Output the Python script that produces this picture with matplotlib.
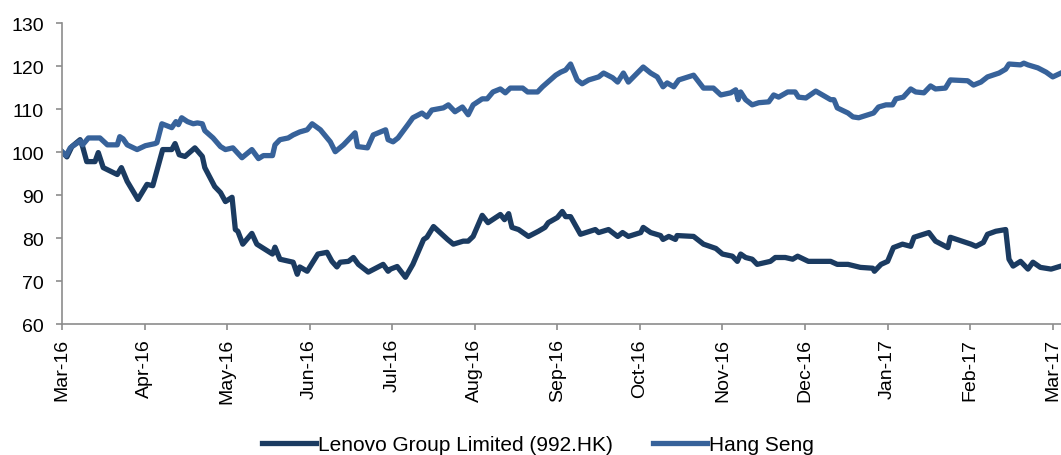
import matplotlib.pyplot as plt

plt.rcParams["font.family"] = ["Liberation Sans", "DejaVu Sans"]

# ── Data (x = months since Mar-16, equal month spacing like the source axis) ──
months = ["Mar-16", "Apr-16", "May-16", "Jun-16", "Jul-16", "Aug-16", "Sep-16",
          "Oct-16", "Nov-16", "Dec-16", "Jan-17", "Feb-17", "Mar-17"]

lenovo_x = [0, .06, .12, .22, .25, .30, .40, .44, .50, .67, .72, .79, .92, 1.03, 1.10,
            1.22, 1.33, 1.37, 1.42, 1.49, 1.61, 1.70, 1.73, 1.85, 1.92, 1.98, 2.06, 2.10,
            2.13, 2.19, 2.30, 2.36, 2.55, 2.58, 2.64, 2.80, 2.85, 2.88, 2.97, 3.10, 3.21,
            3.27, 3.33, 3.37, 3.47, 3.53, 3.59, 3.71, 3.89, 3.95, 3.98, 4.06, 4.16, 4.25,
            4.38, 4.42, 4.50, 4.67, 4.74, 4.86, 4.92, 4.98, 5.09, 5.16, 5.31, 5.36, 5.41,
            5.45, 5.53, 5.65, 5.77, 5.85, 5.89, 6.00, 6.06, 6.10, 6.16, 6.28, 6.46, 6.50,
            6.62, 6.73, 6.79, 6.86, 7.01, 7.04, 7.13, 7.25, 7.28, 7.35, 7.43, 7.45, 7.65,
            7.77, 7.92, 8.00, 8.12, 8.18, 8.22, 8.28, 8.36, 8.42, 8.58, 8.64, 8.76, 8.85,
            8.91, 9.04, 9.31, 9.39, 9.52, 9.67, 9.82, 9.84, 9.92, 10.00, 10.07, 10.18,
            10.28, 10.32, 10.50, 10.58, 10.73, 10.76, 11.01, 11.07, 11.16, 11.21, 11.31,
            11.43, 11.47, 11.52, 11.61, 11.70, 11.76, 11.85, 11.98, 12.10]
lenovo_y = [100.1, 98.9, 101.3, 102.9, 101.3, 97.8, 97.8, 99.9, 96.4, 94.8, 96.4, 93.2,
            89.0, 92.5, 92.2, 100.6, 100.6, 102.0, 99.4, 99.0, 101.0, 99.0, 96.4, 92.0,
            90.6, 88.5, 89.5, 82.0, 81.6, 78.6, 81.1, 78.6, 76.3, 77.9, 75.1, 74.4, 71.6,
            73.3, 72.3, 76.3, 76.7, 74.6, 73.3, 74.4, 74.6, 75.5, 73.9, 72.1, 73.9, 72.3,
            72.8, 73.4, 70.9, 73.9, 79.7, 80.2, 82.7, 79.7, 78.6, 79.3, 79.3, 80.4, 85.3,
            83.6, 85.5, 84.3, 85.7, 82.5, 82.0, 80.4, 81.6, 82.5, 83.6, 84.8, 86.2, 85.0,
            85.0, 80.9, 82.0, 81.3, 82.0, 80.4, 81.3, 80.4, 81.3, 82.5, 81.3, 80.6, 79.7,
            80.4, 79.7, 80.6, 80.4, 78.6, 77.6, 76.3, 75.8, 74.6, 76.3, 75.5, 75.1, 73.9,
            74.6, 75.5, 75.5, 75.1, 75.8, 74.6, 74.6, 73.9, 73.9, 73.2, 73.0, 72.3, 73.9,
            74.6, 77.8, 78.6, 78.1, 80.2, 81.3, 79.3, 77.8, 80.2, 78.6, 78.1, 79.0, 80.9,
            81.6, 82.0, 75.1, 73.5, 74.6, 72.8, 74.4, 73.2, 72.8, 73.5]

hsi_x = [0, .05, .10, .22, .25, .32, .46, .50, .55, .67, .70, .74, .79, .91, 1.01, 1.13,
         1.15, 1.21, 1.33, 1.38, 1.41, 1.45, 1.52, 1.59, 1.64, 1.70, 1.73, 1.83, 1.92,
         1.98, 2.07, 2.18, 2.30, 2.38, 2.44, 2.55, 2.58, 2.64, 2.74, 2.80, 2.88, 2.97,
         3.03, 3.13, 3.25, 3.31, 3.41, 3.55, 3.58, 3.70, 3.77, 3.92, 3.95, 4.01, 4.07,
         4.19, 4.25, 4.36, 4.42, 4.48, 4.62, 4.68, 4.76, 4.85, 4.92, 4.98, 5.09, 5.15,
         5.22, 5.31, 5.37, 5.43, 5.58, 5.64, 5.76, 5.82, 5.98, 6.04, 6.10, 6.16, 6.24,
         6.30, 6.38, 6.50, 6.56, 6.67, 6.73, 6.80, 6.86, 7.04, 7.13, 7.21, 7.28, 7.33,
         7.41, 7.47, 7.65, 7.77, 7.89, 7.98, 8.10, 8.16, 8.19, 8.22, 8.28, 8.36, 8.44,
         8.56, 8.62, 8.68, 8.79, 8.88, 8.92, 9.01, 9.13, 9.31, 9.35, 9.39, 9.52, 9.58,
         9.65, 9.83, 9.89, 9.98, 10.06, 10.10, 10.19, 10.28, 10.34, 10.44, 10.52, 10.58,
         10.70, 10.76, 10.97, 11.04, 11.13, 11.21, 11.35, 11.43, 11.47, 11.61, 11.65,
         11.70, 11.82, 11.92, 12.00, 12.10]
hsi_y = [100.1, 99.2, 101.0, 102.6, 101.7, 103.3, 103.3, 102.6, 101.7, 101.7, 103.6,
         103.1, 101.7, 100.6, 101.5, 102.0, 102.2, 106.6, 105.7, 107.1, 106.4, 108.0,
         107.1, 106.6, 106.8, 106.6, 105.0, 103.3, 101.3, 100.6, 101.0, 98.7, 100.6,
         98.5, 99.2, 99.2, 101.7, 102.9, 103.3, 104.0, 104.7, 105.2, 106.6, 105.2, 102.4,
         100.1, 101.7, 104.5, 101.3, 101.0, 104.0, 105.2, 102.9, 102.4, 103.3, 106.4,
         108.0, 109.1, 108.2, 109.8, 110.3, 111.0, 109.4, 110.5, 108.7, 111.0, 112.4,
         112.4, 114.0, 114.7, 113.8, 114.9, 114.9, 114.0, 114.0, 115.2, 117.9, 118.6,
         119.1, 120.5, 116.8, 115.9, 116.8, 117.5, 118.4, 117.3, 116.3, 118.4, 116.3,
         119.8, 118.4, 117.5, 115.2, 116.1, 115.2, 116.8, 117.9, 114.9, 114.9, 113.3,
         113.8, 114.5, 112.2, 114.0, 112.2, 111.0, 111.5, 111.7, 113.3, 112.8, 114.0,
         114.0, 112.8, 112.6, 114.2, 112.2, 112.2, 110.3, 109.1, 108.2, 108.0, 109.1,
         110.5, 111.0, 111.0, 112.4, 112.8, 114.7, 114.0, 113.8, 115.4, 114.7, 114.9,
         116.8, 116.6, 115.6, 116.3, 117.5, 118.4, 119.3, 120.5, 120.3, 120.7, 120.3,
         119.6, 118.6, 117.5, 118.4]

yticks = [60, 70, 80, 90, 100, 110, 120, 130]

# ── Figure ─────────────────────────────────────────────────────────────
fig = plt.figure(figsize=(10.61, 4.56), dpi=100)
ax = fig.add_axes([0.0584, 0.287, 0.9416, 0.66])

ax.plot(lenovo_x, lenovo_y, color="#1b3b61", linewidth=3.8,
        solid_joinstyle="round", label="Lenovo Group Limited (992.HK)")
ax.plot(hsi_x, hsi_y, color="#37629a", linewidth=3.8,
        solid_joinstyle="round", label="Hang Seng")

ax.set_xlim(0, 12.1)
ax.set_ylim(60, 130)
ax.set_yticks(yticks)
ax.set_xticks(range(len(months)))
ax.set_xticklabels(months, rotation=90)

for s in ["top", "right"]:
    ax.spines[s].set_visible(False)
for s in ["left", "bottom"]:
    ax.spines[s].set_color("#8c8c8c")
    ax.spines[s].set_linewidth(1.2)
ax.tick_params(axis="both", colors="#8c8c8c", length=4, width=1.2, labelsize=14,
               labelcolor="black", direction="out")
ax.tick_params(axis="x", pad=6)
ax.tick_params(axis="y", pad=9)

fig.legend(loc="center", bbox_to_anchor=(0.507, 0.022), ncol=2, frameon=False,
           fontsize=15, handlelength=2.6, handletextpad=0.1, columnspacing=1.9)

fig.savefig("out.png", dpi=100)
